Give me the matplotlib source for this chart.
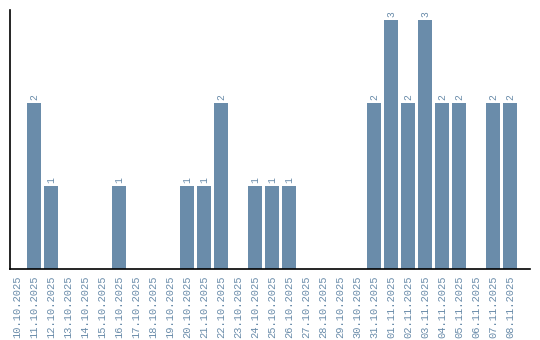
import matplotlib
matplotlib.use("Agg")
import matplotlib.pyplot as plt

dates = ["10.10.2025", "11.10.2025", "12.10.2025", "13.10.2025", "14.10.2025",
         "15.10.2025", "16.10.2025", "17.10.2025", "18.10.2025", "19.10.2025",
         "20.10.2025", "21.10.2025", "22.10.2025", "23.10.2025", "24.10.2025",
         "25.10.2025", "26.10.2025", "27.10.2025", "28.10.2025", "29.10.2025",
         "30.10.2025", "31.10.2025", "01.11.2025", "02.11.2025", "03.11.2025",
         "04.11.2025", "05.11.2025", "06.11.2025", "07.11.2025", "08.11.2025"]
counts = [0, 2, 1, 0, 0, 0, 1, 0, 0, 0,
          1, 1, 2, 0, 1, 1, 1, 0, 0, 0,
          0, 2, 3, 2, 3, 2, 2, 0, 2, 2]

color = "#6a8caa"
fig = plt.figure(figsize=(5.4, 3.4), dpi=100)
ax = fig.add_axes([10/540, 71/340, 520/540, 259/340])
x = list(range(len(dates)))
bars = ax.bar(x, counts, width=0.82, color=color)
for xi, v in zip(x, counts):
    if v > 0:
        ax.text(xi, v + 0.04, str(v), rotation=90, ha="center", va="bottom",
                fontsize=7, color=color, family="Liberation Mono")
ax.set_xlim(-0.41, 30.18)
ax.set_ylim(0, 3.12)
ax.set_xticks(x)
ax.set_xticklabels(dates, rotation=90, fontsize=7.5, color=color, family="Liberation Mono")
ax.tick_params(axis="x", length=0, pad=5)
ax.set_yticks([])
for s in ["top", "right"]:
    ax.spines[s].set_visible(False)
ax.spines["left"].set_linewidth(1.2)
ax.spines["bottom"].set_linewidth(1.2)
fig.savefig("out.png", dpi=100)
